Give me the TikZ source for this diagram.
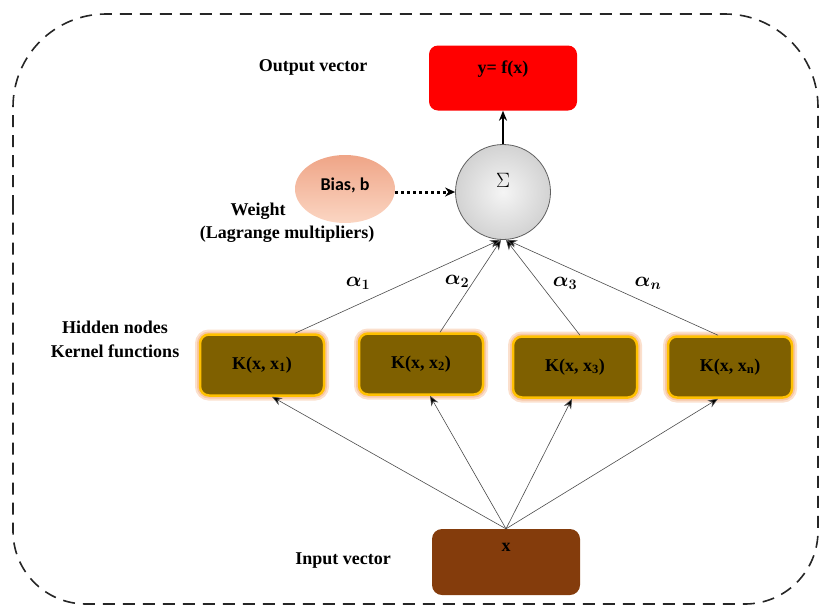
\documentclass[tikz,border=0pt]{standalone}
\usepackage{fontspec}
\setmainfont{Liberation Serif}
\newfontfamily\carl{Carlito}
\usepackage{bm}
\usetikzlibrary{arrows.meta,shapes.geometric}
\definecolor{kfill}{HTML}{7F6000}
\definecolor{kgold}{HTML}{FFC000}
\definecolor{kglow}{HTML}{F4B183}
\definecolor{infill}{HTML}{843C0C}
\definecolor{outred}{HTML}{FF0000}
\begin{document}
\begin{tikzpicture}[x=1pt,y=-1pt,
  every node/.style={font=\bfseries\fontsize{18}{21}\selectfont, inner sep=0pt},
  lbl/.style={},
  alpha/.style={font=\fontsize{21}{24}\selectfont},
  outbox/.style={draw=none, fill=outred, rounded corners=9pt, minimum width=148pt, minimum height=65pt},
  inbox/.style={draw=none, fill=infill, rounded corners=10pt, minimum width=148pt, minimum height=66pt},
  kbox/.style={fill=kfill, draw=kgold, line width=2.5pt, rounded corners=9pt, minimum width=124pt, minimum height=61pt,
     preaction={draw=kglow, line width=10pt, draw opacity=0.4},
     preaction={draw=kglow, line width=6pt, draw opacity=0.55}},
  sigma/.style={circle, draw=gray!75!black, line width=0.8pt, inner color=gray!8, outer color=gray!35, minimum size=95pt},
  bias/.style={ellipse, top color={rgb,255:red,239;green,165;blue,135}, bottom color={rgb,255:red,251;green,214;blue,195}, minimum width=100pt, minimum height=68pt},
  conn/.style={draw=black!70, line width=0.6pt, -{Stealth[length=10pt,width=8pt,fill=black]}},
  frame/.style={draw=black!85, line width=1.6pt, dash pattern=on 12pt off 8pt}
]
\useasboundingbox (0,0) rectangle (819,606);
% dashed frame
\draw[frame, rounded corners=93pt] (13,300) -- (13,14) -- (818,14) [rounded corners=73pt] -- (818,604) -- (13,604) [rounded corners=93pt] -- cycle;

% output
\node[outbox] (out) at (503,78) {};
\node[lbl] (outtxt) at (503,69) {y= f(x)};
\node[lbl] (outlbl) at (313,67) {Output vector};

% summation
\node[sigma] (sig) at (503,192) {};
\node[font=\fontsize{21}{24}\selectfont] (sigtxt) at (503,180) {$\Sigma$};
\draw[line width=1.8pt, -{Stealth[length=10pt,width=8pt]}] (sig.north) -- (out.south);

% bias
\node[bias] (bias) at (345,189) {};
\node[font=\carl\bfseries\fontsize{18}{21}\selectfont] (biastxt) at (345,185) {Bias, b};
\draw[line width=3pt, dash pattern=on 3pt off 3pt, -{Stealth[length=10pt,width=9pt]}] (bias.east |- sig.west) -- (sig.west);
\node[lbl] (wlbl) at (258,211) {Weight};
\node[lbl] (lmlbl) at (287,234) {(Lagrange multipliers)};

% kernel boxes
\node[kbox] (k1) at (262,365) {K(x, x\textsubscript{1})};
\node[kbox] (k2) at (421,364) {K(x, x\textsubscript{2})};
\node[kbox] (k3) at (575,367) {K(x, x\textsubscript{3})};
\node[kbox] (kn) at (730,367) {K(x, x\textsubscript{n})};
\node[lbl] (hlbl) at (115,327) {Hidden nodes};
\node[lbl] (klbl) at (115,351) {Kernel functions};

% alphas
\node[alpha] (a1) at (358,283) {$\bm{\alpha_1}$};
\node[alpha] (a2) at (457,281) {$\bm{\alpha_2}$};
\node[alpha] (a3) at (565,283) {$\bm{\alpha_3}$};
\node[alpha] (an) at (648,283) {$\bm{\alpha_n}$};

\draw[conn] ([xshift=33pt]k1.north) -- ([xshift=-3pt]sig.south);
\draw[conn] ([xshift=19pt]k2.north) -- ([xshift=-2pt]sig.south);
\draw[conn] ([xshift=5pt]k3.north) -- ([xshift=3pt]sig.south);
\draw[conn] ([xshift=-12pt]kn.north) -- ([xshift=4pt]sig.south);

% input
\node[inbox] (in) at (506,562) {};
\node[font=\bfseries\fontsize{18}{21}\selectfont] (intxt) at (506,547) {x};
\node[lbl] (inlbl) at (343,561) {Input vector};

\draw[conn] (in.north) -- ([xshift=10pt]k1.south);
\draw[conn] (in.north) -- ([xshift=9pt]k2.south);
\draw[conn] (in.north) -- ([xshift=-3pt]k3.south);
\draw[conn] (in.north) -- ([xshift=-12pt]kn.south);
\end{tikzpicture}
\end{document}
